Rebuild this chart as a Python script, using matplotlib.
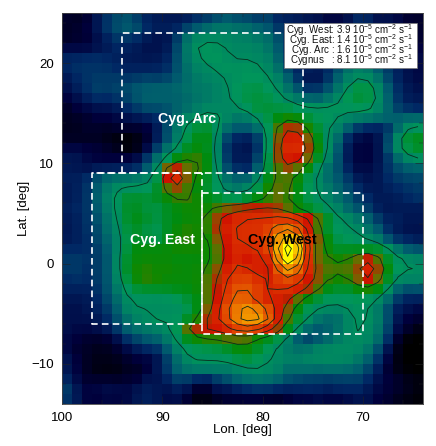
import matplotlib
matplotlib.use('Agg')
import matplotlib.pyplot as plt
import numpy as np
from matplotlib.colors import LinearSegmentedColormap

plt.rcParams['font.family'] = ['Liberation Sans', 'DejaVu Sans']
plt.rcParams['mathtext.fontset'] = 'custom'
plt.rcParams['mathtext.rm'] = 'Liberation Sans'
plt.rcParams['mathtext.default'] = 'regular'

# intensity, one row per degree of latitude (top = 25 deg)
flux = [
    [6,5,6,14,20,25,27,22,16,14,14,14,14,18,20,24,28,24,24,20,24,16,16,14,12,12,8,8,10,18,16,10,12,10,6,6],
    [5,6,8,14,22,26,30,28,18,16,16,16,24,28,32,36,36,34,34,30,28,20,20,22,20,16,14,16,20,26,26,20,16,12,8,6],
    [5,6,6,12,16,22,20,18,14,12,12,22,36,42,42,42,40,38,38,36,34,26,20,20,20,18,14,16,24,30,28,22,16,12,8,6],
    [10,10,9,12,14,18,16,14,12,12,14,24,36,44,46,44,42,40,40,38,36,28,20,18,18,16,14,18,26,30,28,22,16,14,10,8],
    [18,18,20,20,18,16,14,14,14,14,16,26,36,42,46,46,42,40,42,40,38,30,22,18,18,16,16,22,30,34,32,26,20,14,12,10],
    [18,20,20,20,20,18,16,16,16,16,18,26,34,38,40,44,46,44,46,44,40,34,24,16,16,14,18,26,34,38,36,28,22,16,12,10],
    [14,18,20,22,22,22,20,22,24,22,24,28,32,36,38,40,42,44,46,46,44,38,30,20,12,12,20,30,38,42,42,34,24,16,12,10],
    [12,16,20,24,22,24,26,28,30,30,30,32,34,36,36,38,42,46,48,48,46,42,34,26,18,20,26,34,44,50,50,42,28,18,14,12],
    [8,12,16,20,18,20,24,28,30,30,30,30,32,34,36,38,40,46,48,50,48,46,40,36,30,28,34,40,48,50,50,42,30,20,14,14],
    [5,8,10,12,12,14,18,22,26,26,26,30,32,36,40,40,40,42,46,50,50,48,48,46,46,46,46,46,46,48,46,40,30,22,18,16],
    [4,5,6,8,8,10,12,14,16,16,24,32,40,44,46,46,40,34,36,44,48,54,58,56,48,46,46,42,38,38,36,34,32,30,32,32],
    [4,4,6,6,5,6,6,6,6,14,26,36,46,50,52,44,32,28,28,32,46,64,70,70,58,50,42,38,30,20,16,14,18,30,44,46],
    [4,4,4,4,3,2,0,2,6,14,24,36,48,54,56,40,22,16,14,18,44,68,74,76,66,54,40,34,16,10,8,12,24,44,52,54],
    [10,10,8,8,6,4,0,2,8,22,34,44,52,54,54,38,18,14,12,16,46,70,76,77,68,58,42,28,14,8,8,12,26,44,50,52],
    [14,14,10,8,8,8,8,10,22,34,44,54,60,62,56,40,20,14,14,20,50,70,74,74,66,52,38,26,14,8,8,12,20,32,40,44],
    [14,14,12,14,14,14,14,16,28,38,72,72,62,62,56,42,22,18,14,26,50,62,68,62,56,44,32,26,16,10,10,14,20,26,28,30],
    [16,16,18,28,34,36,36,38,40,44,78,80,66,56,52,46,34,30,30,40,54,62,62,56,46,40,32,28,22,14,12,14,18,22,24,24],
    [14,16,20,28,36,42,44,44,46,50,62,68,60,54,50,46,36,34,38,48,60,64,62,54,46,42,36,30,24,18,14,14,16,18,20,22],
    [14,16,20,30,38,46,52,52,50,52,56,60,62,58,54,50,46,44,48,52,58,64,60,54,48,44,38,34,28,22,18,14,14,16,18,20],
    [16,18,20,28,36,44,52,52,48,48,52,54,56,58,56,62,68,70,72,72,70,66,60,52,48,46,42,38,30,26,22,14,14,14,14,14],
    [14,16,20,26,34,42,52,54,52,48,52,54,56,56,60,68,72,76,76,76,76,80,80,80,78,66,52,44,42,36,30,22,16,16,14,14],
    [14,16,20,24,34,40,50,52,48,46,52,56,60,58,58,70,74,76,76,76,78,84,86,80,70,60,48,46,44,40,34,28,18,14,12,12],
    [14,16,18,24,30,38,48,52,48,46,52,58,60,58,56,66,72,76,76,76,80,90,96,92,80,66,56,46,46,44,40,36,24,18,16,14],
    [18,18,18,22,28,38,50,56,56,56,56,58,58,58,56,62,72,76,74,76,78,92,108,96,78,62,56,50,52,52,50,52,48,36,28,26],
    [22,22,20,22,26,40,52,56,56,56,56,54,54,54,56,60,72,74,70,74,72,88,104,92,76,62,60,58,60,64,76,64,50,44,42,40],
    [22,22,18,22,26,40,52,58,60,56,58,56,56,56,60,66,74,78,74,74,70,82,90,84,76,66,62,62,62,66,78,68,56,46,44,42],
    [18,20,18,22,26,38,50,58,62,60,56,56,56,56,62,68,76,78,80,76,72,78,80,78,72,66,60,58,60,66,74,66,52,40,40,40],
    [16,16,16,20,26,36,46,50,50,52,52,54,54,56,62,70,78,82,82,80,74,76,76,76,70,64,52,50,50,56,60,56,44,28,24,26],
    [14,14,14,18,24,32,42,44,44,42,44,46,50,52,62,72,78,84,82,76,72,74,70,62,54,48,46,46,46,46,44,40,32,20,16,16],
    [12,12,14,16,22,28,40,42,42,42,42,42,46,52,66,74,82,86,90,88,82,72,66,54,46,42,40,38,42,44,42,36,24,14,12,10],
    [12,12,12,14,18,26,34,38,42,46,44,44,50,56,70,74,80,88,90,92,84,74,62,50,44,34,30,32,40,44,44,38,26,12,8,6],
    [12,10,10,12,14,22,30,34,36,36,42,44,70,74,72,74,76,82,84,82,78,72,54,44,30,26,30,34,40,44,42,36,24,10,6,2],
    [10,8,6,5,6,10,20,24,28,30,36,44,52,56,60,58,62,60,60,52,48,46,34,24,20,26,30,36,40,42,40,34,20,4,0,0],
    [10,6,5,4,4,6,10,14,18,18,28,38,46,46,46,48,50,56,58,52,48,40,36,34,36,40,42,42,42,40,36,26,12,2,0,0],
    [14,8,5,3,3,4,6,8,8,12,22,32,40,46,44,44,46,48,50,46,42,40,38,38,40,42,42,42,40,36,30,20,8,2,0,0],
    [14,8,4,2,2,2,4,4,6,14,22,32,36,38,38,38,36,38,42,44,42,38,32,34,34,32,34,34,32,30,24,16,6,2,0,0],
    [18,10,6,6,6,5,6,6,14,12,16,24,22,16,14,22,26,32,34,36,34,32,26,24,22,22,20,22,22,24,18,12,8,6,4,2],
    [24,14,8,10,12,12,10,14,16,14,12,16,14,4,4,14,12,16,18,20,20,18,16,18,18,18,16,18,18,18,14,10,8,6,4,2],
    [20,14,8,8,10,8,10,14,16,14,10,12,6,2,2,4,6,6,6,6,4,4,6,8,8,10,8,8,10,12,12,8,6,4,2,1],
]

lon_edges = [100, 64]
lat_edges = [-14, 25]
levels = [42, 59, 68, 75, 81, 86, 91, 96]

# regions (lon, lat corners)
west_lon = [86, 70, 70, 86, 86]
west_lat = [7, 7, -7, -7, 7]
east_lon = [86, 97, 97, 86, 86]
east_lat = [9, 9, -6, -6, 9]
arc_lon = [94, 94, 76, 76, 97]
arc_lat = [9, 23, 23, 9, 9]

names = ['Cyg. West', 'Cyg. East', 'Cyg. Arc ', 'Cygnus   ']
totals = [3.9, 1.4, 1.6, 8.1]

cmap = LinearSegmentedColormap.from_list('gev', [
    (0.00, '#000000'), (0.08, '#00003c'), (0.18, '#002864'), (0.28, '#005a6e'),
    (0.38, '#008264'), (0.46, '#00965a'), (0.54, '#008c10'), (0.58, '#128800'),
    (0.64, '#6e6c00'), (0.71, '#d01000'), (0.78, '#de3a00'), (0.84, '#e86800'),
    (0.92, '#f8b000'), (1.00, '#ffff00')])


def blur(a, k):
    k = np.array(k, dtype=float)
    k = k / k.sum()
    p = np.pad(a, 1, mode='edge')
    p = np.apply_along_axis(lambda r: np.convolve(r, k, mode='same'), 0, p)
    p = np.apply_along_axis(lambda r: np.convolve(r, k, mode='same'), 1, p)
    return p[1:-1, 1:-1]


data = np.array(flux, dtype=float)
shown = blur(data, [1, 5, 1])    # takes the speckle off my readings
smooth = blur(data, [1, 2, 1])   # contours are smoother than the pixels

fig = plt.figure(figsize=(4.36, 4.46), dpi=100)
ax = fig.add_axes([62/436, 42/446, 361/436, 391/446])
ax.imshow(shown, cmap=cmap, vmin=0, vmax=100, aspect='auto', interpolation='nearest',
          extent=[lon_edges[0], lon_edges[1], lat_edges[0], lat_edges[1]])

lon = lon_edges[0] - 0.5 - np.arange(data.shape[1])
lat = lat_edges[1] - 0.5 - np.arange(data.shape[0])
ax.contour(lon, lat, smooth, levels=levels, colors='#0b2a1c', linewidths=0.6)

for x, y in [(west_lon, west_lat), (east_lon, east_lat), (arc_lon, arc_lat)]:
    ax.plot(x, y, color='white', lw=1.2, dashes=(4, 2.5))

ax.text(87.5, 14.4, 'Cyg. Arc', color='white', fontsize=10.3, fontweight='bold', ha='center', va='center')
ax.text(90.0, 2.4, 'Cyg. East', color='white', fontsize=10.3, fontweight='bold', ha='center', va='center')
ax.text(78.0, 2.4, 'Cyg. West', color='black', fontsize=10.3, fontweight='bold', ha='center', va='center')

ax.fill([77.9, 64.6, 64.6, 77.9], [24, 24, 19.5, 19.5], facecolor='white', edgecolor='#777777', lw=0.5, zorder=5)
for i in range(4):
    line = f'{names[i]}: {totals[i]} 10$^{{-5}}$ cm$^{{-2}}$ s$^{{-1}}$'
    ax.text(65.0, 23.3 - i*1.0, line, fontsize=7, ha='right', va='center', zorder=6, color='#111111')

ax.set_xlim(lon_edges)
ax.set_ylim(lat_edges)
ax.set_xticks([100, 90, 80, 70])
ax.set_yticks([-10, 0, 10, 20])
ax.set_yticklabels(['\u221210', '0', '10', '20'])
ax.set_xticks(np.arange(98, 64, -2), minor=True)
ax.set_yticks(np.arange(-14, 25, 2), minor=True)
ax.tick_params(which='major', direction='in', top=True, right=True, length=6, width=0.4, color='#222222', labelsize=9.5, pad=6)
ax.tick_params(which='minor', direction='in', top=True, right=True, length=3, width=0.3, color='#222222')
for s in ax.spines.values():
    s.set_linewidth(0.6)
    s.set_color('#444444')

ax.set_xlabel('Lon. [deg]', fontsize=9.5, labelpad=0)
ax.set_ylabel('Lat. [deg]', fontsize=9.5, labelpad=1)

fig.savefig('out.png', dpi=100)
